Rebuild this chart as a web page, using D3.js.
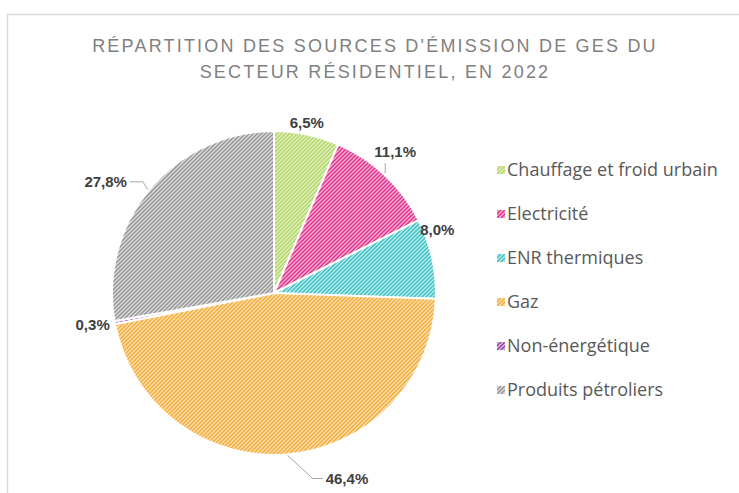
<!DOCTYPE html>
<html>
<head>
<meta charset="utf-8">
<script src="https://d3js.org/d3.v7.min.js"></script>
<style>
  body { margin: 0; background: #fff; }
  text { font-family: "Liberation Sans", Arial, sans-serif; }
</style>
</head>
<body>
<div id="my_dataviz"></div>
<script>

var categories = ["Chauffage et froid urbain", "Electricité", "ENR thermiques", "Gaz", "Non-énergétique", "Produits pétroliers"];
var values = [6.5, 11.1, 8.0, 46.4, 0.3, 27.8];
var valueLabels = ["6,5%", "11,1%", "8,0%", "46,4%", "0,3%", "27,8%"];
var titleLines = ["RÉPARTITION DES SOURCES D'ÉMISSION DE GES DU", "SECTEUR RÉSIDENTIEL, EN 2022"];

var colors = ["#b2d665", "#e2308c", "#3cc1c4", "#f3ad38", "#8e44a0", "#949494"];
var tints  = ["#e4f1c4", "#f5b5d7", "#c0ecee", "#fce0b2", "#dcc2e4", "#dedede"];

var width = 739, height = 493;
var cx = 274, cy = 293, radius = 162;

var svg = d3.select("#my_dataviz")
  .append("svg")
    .attr("width", width)
    .attr("height", height);

// chart frame
svg.append("rect")
  .attr("x", 7.5).attr("y", 14.5)
  .attr("width", width).attr("height", height)
  .style("fill", "#fff")
  .style("stroke", "#d9d9d9")
  .style("stroke-width", 1.5);

// hatch patterns
var defs = svg.append("defs");
categories.forEach(function(c, i) {
  var p = defs.append("pattern")
    .attr("id", "hatch" + i)
    .attr("patternUnits", "userSpaceOnUse")
    .attr("width", 4).attr("height", 4);
  p.append("rect").attr("width", 4).attr("height", 4).style("fill", tints[i]);
  p.append("path")
    .attr("d", "M-1,1 l2,-2 M0,4 l4,-4 M3,5 l2,-2")
    .style("stroke", colors[i])
    .style("stroke-width", 1.5);
});

// title
svg.selectAll(".title")
  .data(titleLines).enter()
  .append("text")
    .attr("x", 375)
    .attr("y", function(d, i) { return 52 + i * 26; })
    .attr("text-anchor", "middle")
    .style("font-size", "18px")
    .style("letter-spacing", "2.2px")
    .style("fill", "#7f7f7f")
    .text(function(d) { return d; });

var pie = d3.pie().sort(null).value(function(d) { return d; });
var arcs = pie(values);
var arc = d3.arc().innerRadius(0).outerRadius(radius);

var g = svg.append("g").attr("transform", "translate(" + cx + "," + cy + ")");

g.selectAll("path.slice")
  .data(arcs).enter()
  .append("path")
    .attr("class", "slice")
    .attr("d", arc)
    .style("fill", function(d, i) { return "url(#hatch" + i + ")"; })
    .style("stroke", "#fff")
    .style("stroke-width", 2);

function rim(d) {
  var a = (d.startAngle + d.endAngle) / 2;
  return [Math.sin(a) * radius, -Math.cos(a) * radius];
}

// label offsets from the slice's rim midpoint
var labelOff = [[0, -12], [10, -23], [5, -29], [39, 24], [-5, 2], [-23, -7]];
var labelAnchor = ["middle", "middle", "middle", "start", "end", "end"];

g.selectAll("text.lab")
  .data(arcs).enter()
  .append("text")
    .attr("class", "lab")
    .attr("x", function(d, i) { return rim(d)[0] + labelOff[i][0]; })
    .attr("y", function(d, i) { return rim(d)[1] + labelOff[i][1]; })
    .attr("dy", "0.35em")
    .attr("text-anchor", function(d, i) { return labelAnchor[i]; })
    .style("font-size", "15px")
    .style("font-weight", "bold")
    .style("fill", "#404040")
    .text(function(d, i) { return valueLabels[i]; });

// leader lines (offsets from rim midpoint)
var leaders = [
  {i: 1, pts: [[0, -2], [0, -12]]},
  {i: 5, pts: [[-2, 1], [-7, -7], [-20, -7]]},
  {i: 3, pts: [[1, 1], [26, 24], [36, 24]]}
];
leaders.forEach(function(l) {
  var r = rim(arcs[l.i]);
  g.append("path")
    .attr("d", d3.line()(l.pts.map(function(p) { return [r[0] + p[0], r[1] + p[1]]; })))
    .style("fill", "none")
    .style("stroke", "#a6a6a6")
    .style("stroke-width", 1);
});

// legend
var legend = svg.selectAll(".legend")
  .data(categories).enter()
  .append("g")
    .attr("transform", function(d, i) { return "translate(497," + (170 + i * 44) + ")"; });

legend.append("rect")
  .attr("x", 0).attr("y", -4)
  .attr("width", 8).attr("height", 8)
  .style("fill", function(d, i) { return "url(#hatch" + i + ")"; });

legend.append("text")
  .attr("x", 10)
  .attr("dy", "0.35em")
  .style("font-family", "'Open Sans', sans-serif")
  .style("font-size", "18px")
  .style("fill", "#595959")
  .text(function(d) { return d; });

</script>
</body>
</html>
